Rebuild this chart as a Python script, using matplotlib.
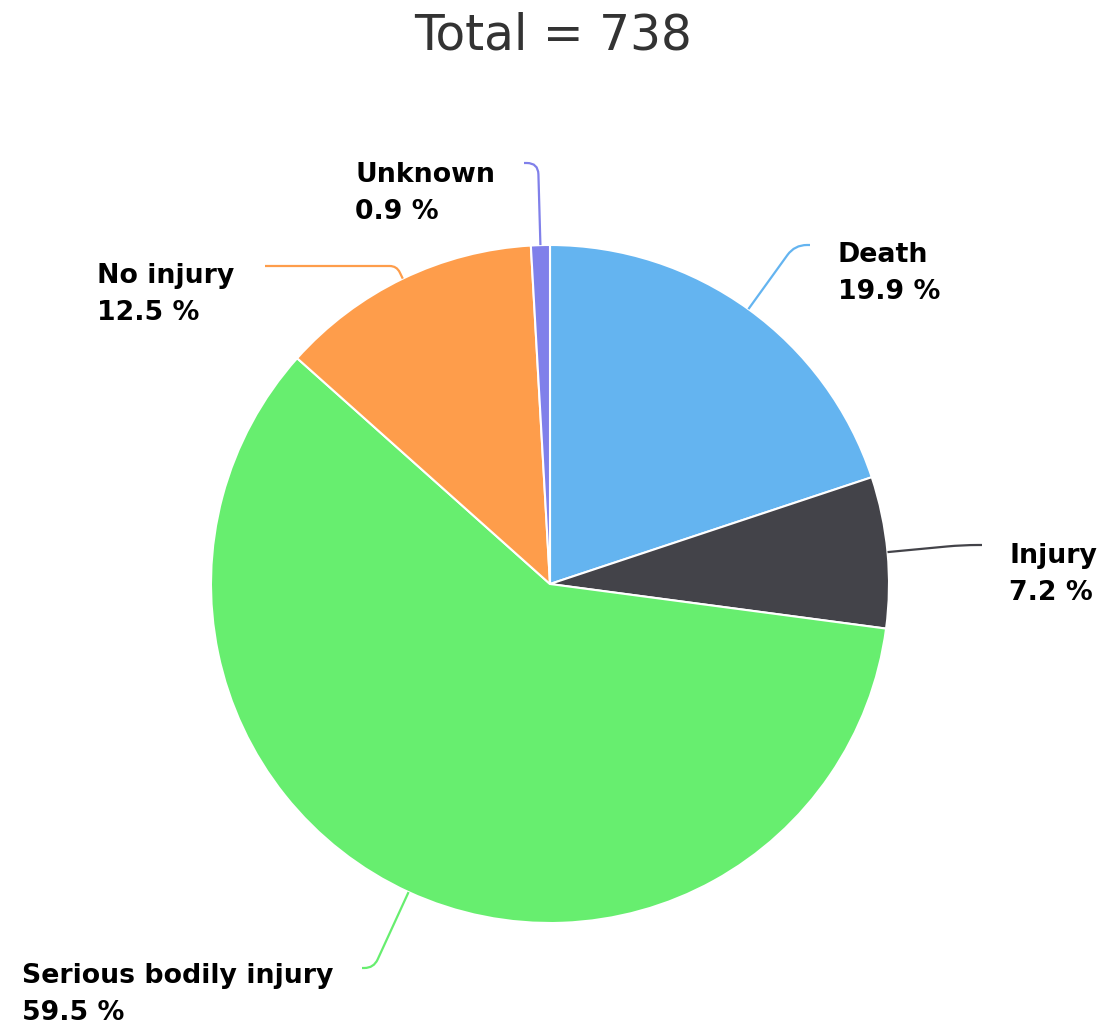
import numpy as np
import matplotlib
matplotlib.use("Agg")
import matplotlib.pyplot as plt
from matplotlib.path import Path
from matplotlib.patches import PathPatch

# outcome shares (percent), clockwise from 12 o'clock
labels = ["Death", "Injury", "Serious bodily injury", "No injury", "Unknown"]
shares = [19.9, 7.2, 59.5, 12.5, 0.9]
total = 738

colors = ["#64b4f0", "#434349", "#67ee6f", "#fe9d4b", "#8080ea"]

# label layout in pixels: text x, first baseline, connector end
label_pos = {
    "Death": (838, 262, 810, 245),
    "Injury": (1009, 563, 982, 545),
    "Serious bodily injury": (22, 983, 362, 968),
    "No injury": (97, 283, 265, 266),
    "Unknown": (355, 182, 524, 163),
}

W, H = 1102, 1027
cx, cy, r = 550, 584, 339

fig = plt.figure(figsize=(W / 100, H / 100), dpi=100)
ax = fig.add_axes([0, 0, 1, 1])

# y axis runs downward, so data-counterclockwise draws clockwise on screen
ax.pie(shares, colors=colors, startangle=-90, counterclock=True,
       center=(cx, cy), radius=r,
       wedgeprops=dict(edgecolor="white", linewidth=1.5))
ax.set_xlim(0, W)
ax.set_ylim(H, 0)
ax.set_aspect("equal")
ax.axis("off")

ax.text(W / 2 + 2, 36, "Total = %d" % total, ha="center", va="center",
        fontsize=35, color="#333333")

start = -90.0
for lab, val, col in zip(labels, shares, colors):
    span = 360.0 * val / sum(shares)
    mid = np.radians(start + span / 2)
    start += span
    dx, dy = np.cos(mid), np.sin(mid)
    x0, y0 = cx + r * dx, cy + r * dy
    tx, ty, ex, ey = label_pos[lab]
    # run outward radially until level with the label, then bend over
    d = (ey - y0) / dy if abs(dy) > 1e-6 else 40
    kx, ky = x0 + d * dx, ey
    k = min(24, abs(d) * 0.5, abs(ex - kx) * 0.8)
    sgn = np.sign(ex - kx)
    verts = [(x0, y0), (kx - k * dx, ky - k * dy), (kx, ky),
             (kx + sgn * k, ky), (ex, ey)]
    codes = [Path.MOVETO, Path.LINETO, Path.CURVE3, Path.CURVE3, Path.LINETO]
    ax.add_patch(PathPatch(Path(verts, codes), fill=False, edgecolor=col,
                           linewidth=1.6))
    ax.text(tx, ty, lab, ha="left", va="baseline", fontsize=19.3,
            fontweight="bold", color="black")
    ax.text(tx, ty + 37, "%.1f %%" % val, ha="left", va="baseline",
            fontsize=19.3, fontweight="bold", color="black")

fig.savefig("out.png", dpi=100, facecolor="white")
